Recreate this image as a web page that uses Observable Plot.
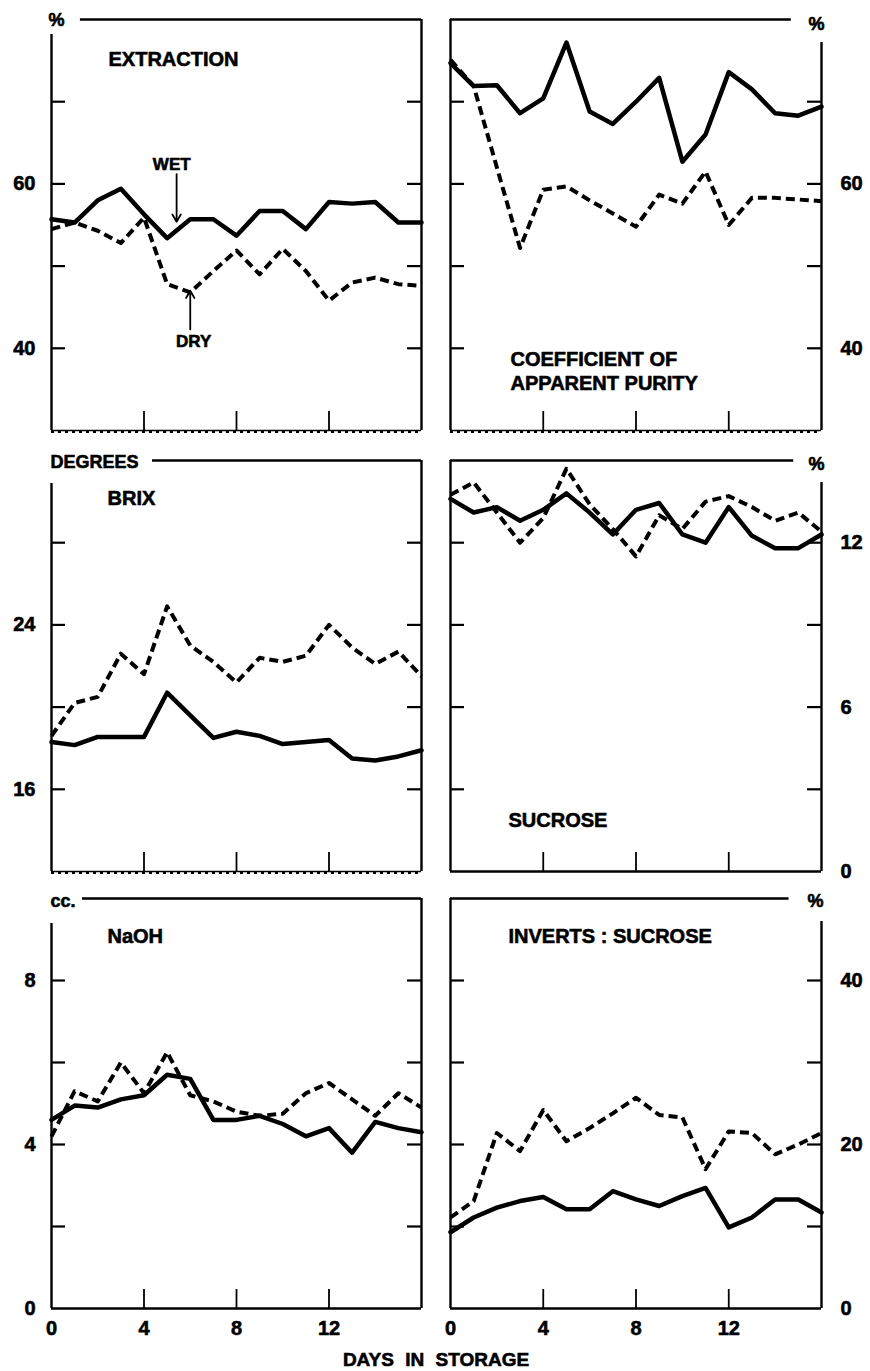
<!DOCTYPE html>
<html><head><meta charset="utf-8">
<script src="https://cdn.jsdelivr.net/npm/d3@7"></script>
<script src="https://cdn.jsdelivr.net/npm/@observablehq/plot@0.6"></script>
<style>
body{margin:0;background:#fff;}
#root{position:relative;width:870px;height:1371px;overflow:hidden;font-family:"Liberation Sans",Arial,sans-serif;font-weight:bold;color:#000;}
#root svg text{stroke:#000;stroke-width:0.6px;}
.panel{position:absolute;}
#xtitle{position:absolute;left:0;width:872px;top:1349px;text-align:center;font-size:19px;font-weight:bold;word-spacing:6px;-webkit-text-stroke:0.6px #000;}
</style></head><body><div id="root"></div>
<script>
// ---- data ----
const days = [0,1,2,3,4,5,6,7,8,9,10,11,12,13,14,15,16];
const extractionWet = [55.7,55.3,58.0,59.4,56.3,53.4,55.7,55.7,53.7,56.7,56.7,54.5,57.8,57.6,57.8,55.3,55.3];
const extractionDry = [54.5,55.3,54.3,52.8,55.9,47.8,46.8,49.4,51.9,49.0,52.1,49.4,45.8,48.0,48.6,47.8,47.6];
const purityWet = [74.7,71.9,72.0,68.6,70.4,77.2,68.8,67.3,70.0,72.9,62.7,66.0,73.6,71.5,68.6,68.3,69.4];
const purityDry = [75.1,71.9,62.0,52.2,59.3,59.7,58.0,56.4,54.8,58.7,57.6,61.5,55.0,58.3,58.3,58.1,57.9];
const brixWet = [18.3,18.15,18.55,18.55,18.55,20.7,19.6,18.5,18.8,18.6,18.2,18.3,18.4,17.5,17.4,17.6,17.9];
const brixDry = [18.6,20.2,20.5,22.6,21.6,24.9,23.0,22.2,21.2,22.4,22.2,22.5,24.0,22.9,22.1,22.7,21.5];
const sucroseWet = [13.6,13.1,13.3,12.8,13.2,13.8,13.1,12.3,13.2,13.45,12.3,12.0,13.3,12.25,11.8,11.8,12.3];
const sucroseDry = [13.75,14.2,13.1,12.0,12.9,14.7,13.4,12.5,11.5,13.0,12.5,13.5,13.7,13.3,12.8,13.1,12.4];
const naohWet = [4.6,4.95,4.9,5.1,5.2,5.7,5.6,4.6,4.6,4.7,4.5,4.2,4.4,3.8,4.55,4.4,4.3];
const naohDry = [4.2,5.3,5.05,6.0,5.25,6.25,5.2,5.05,4.8,4.7,4.75,5.25,5.5,5.1,4.7,5.25,4.9];
const invertsWet = [9.3,11.1,12.3,13.1,13.6,12.1,12.1,14.3,13.3,12.5,13.7,14.7,9.9,11.1,13.3,13.3,11.7];
const invertsDry = [11.1,13.1,21.4,19.2,24.2,20.4,22.0,23.8,25.7,23.6,23.3,17.0,21.6,21.4,18.8,20.0,21.4];
const xTickLabels = [0,4,8,12];
const titles = ["EXTRACTION","COEFFICIENT OF\nAPPARENT PURITY","BRIX","SUCROSE","NaOH","INVERTS : SUCROSE"];
const units = ["%","%","DEGREES","%","cc.","%"];
const yDomains = [[30,80],[30,80],[12,32],[0,15],[0,10],[0,50]];
const yLabelTicks = [[40,60],[40,60],[16,24],[0,6,12],[0,4,8],[0,20,40]];
// annotations on the extraction panel
const annoText = [{label:"WET", day:5.2, value:62.4},{label:"DRY", day:6.15, value:40.85}];
const annoArrows = [{day:5.41, from:61.2, to:55.4},{day:6.0, from:42.3, to:47.0}];
const xTitle = "DAYS IN STORAGE";

// ---- layout / style ----
const layout = [
  {col:0,row:0,step:10,titleDx:57,titleDy:39,unitDx:-3,unitDy:1,lineFrom:1.25,axisGap:15,wavy:true,anno:true},
  {col:1,row:0,step:10,titleDx:60,titleDy:351,unitDx:-5,unitDy:5,lineTo:14.7,axisGap:23,wavy:true},
  {col:0,row:1,step:4,titleDx:56,titleDy:37,unitDx:-1,unitDy:2,lineFrom:4.37,axisGap:23,wavy:true},
  {col:1,row:1,step:3,titleDx:58,titleDy:359,unitDx:-5,unitDy:4,lineTo:14.8,axisGap:22,wavy:false},
  {col:0,row:2,step:2,titleDx:56,titleDy:37,unitDx:-1,unitDy:3,lineFrom:1.34,axisGap:25,wavy:false,xaxis:true},
  {col:1,row:2,step:10,titleDx:58,titleDy:37,unitDx:-6,unitDy:3,lineTo:14.6,axisGap:23,wavy:false,xaxis:true}
];
const series = [[extractionWet,extractionDry],[purityWet,purityDry],[brixWet,brixDry],[sucroseWet,sucroseDry],[naohWet,naohDry],[invertsWet,invertsDry]];
const rowTop = [0,440,880];
const rowMT = [19,20,18];
const rowPH = [411,411,410];

const root = document.getElementById("root");

layout.forEach((p, i) => {
  const left = p.col === 0;
  const W = 435;
  const H = p.row === 2 ? 470 : 440;
  const mT = rowMT[p.row], plotH = rowPH[p.row];
  const mB = H - mT - plotH;
  const mL = left ? 51 : 15, mR = left ? 14 : 49;
  const [lo, hi] = yDomains[i];
  const dayPx = (W - mL - mR) / 16;
  const unitPx = plotH / (hi - lo);
  const px2d = v => v / dayPx, px2u = v => v / unitPx;
  const ticks = d3.range(lo, hi + 1e-9, p.step);
  const inner = ticks.filter(t => t > lo && t < hi);
  const data = days.map((d, k) => ({day: d, wet: series[i][0][k], dry: series[i][1][k]}));
  const axisSideX = left ? 0 : 16, otherSideX = left ? 16 : 0;
  const fw = {fontWeight: "bold"};
  const marks = [
    Plot.ruleY(inner, {x1: 0, x2: px2d(14), strokeWidth: 2.2}),
    Plot.ruleY(inner, {x1: 16 - px2d(14), x2: 16, strokeWidth: 2.2}),
    Plot.ruleX([4, 8, 12], {y1: lo, y2: lo + px2u(19), strokeWidth: 1.8}),
    Plot.ruleX([axisSideX], {y1: lo, y2: hi - px2u(p.axisGap), strokeWidth: 2.4}),
    Plot.ruleX([otherSideX], {y1: lo, y2: hi, strokeWidth: 2.4}),
    Plot.ruleY([hi], {x1: left ? p.lineFrom : 0, x2: left ? 16 : p.lineTo, strokeWidth: 2.4})
  ];
  if (p.wavy) {
    marks.push(Plot.ruleY([lo], {strokeWidth: 1.6}));
    marks.push(Plot.ruleY([lo], {strokeWidth: 2.4, strokeDasharray: "3,4", dy: 1.2}));
  } else {
    marks.push(Plot.ruleY([lo], {strokeWidth: 2.4}));
  }
  marks.push(Plot.line(data, {x: "day", y: "dry", stroke: "black", strokeWidth: 4, strokeDasharray: "9,5", strokeLinecap: "butt"}));
  marks.push(Plot.line(data, {x: "day", y: "wet", stroke: "black", strokeWidth: 4.5}));
  marks.push(Plot.axisY(yLabelTicks[i], {anchor: left ? "left" : "right", tickSize: 0, tickPadding: left ? 16 : 19, fontSize: 20, label: null, ...fw}));
  if (p.xaxis) marks.push(Plot.axisX(xTickLabels, {anchor: "bottom", tickSize: 0, tickPadding: 12, fontSize: 20, label: null, ...fw}));
  marks.push(Plot.text([units[i]], {text: d => d, frameAnchor: left ? "top-left" : "top-right", dx: p.unitDx, dy: p.unitDy,
    textAnchor: left ? "start" : "middle", lineAnchor: "middle", fontSize: 18, ...fw}));
  marks.push(Plot.text([titles[i]], {text: d => d, frameAnchor: "top-left", dx: p.titleDx, dy: p.titleDy,
    textAnchor: "start", lineAnchor: "middle", fontSize: 20, lineHeight: 1.2, ...fw}));
  if (p.anno) {
    marks.push(Plot.text(annoText, {x: "day", y: "value", text: "label", fontSize: 17, ...fw}));
    marks.push(Plot.arrow(annoArrows, {x1: "day", x2: "day", y1: "from", y2: "to", strokeWidth: 1.8, headLength: 7, bend: false}));
  }
  const svg = Plot.plot({
    width: W, height: H,
    marginTop: mT, marginBottom: mB, marginLeft: mL, marginRight: mR,
    x: {domain: [0, 16], label: null, axis: p.xaxis ? undefined : null},
    y: {domain: [lo, hi], label: null},
    style: {fontFamily: '"Liberation Sans", Arial, sans-serif', fontSize: "20px", fontWeight: "bold", overflow: "visible", background: "transparent", color: "black"},
    marks
  });
  const div = document.createElement("div");
  div.className = "panel";
  div.style.left = (p.col * 435) + "px";
  div.style.top = rowTop[p.row] + "px";
  div.appendChild(svg);
  root.appendChild(div);
});
const xt = document.createElement("div");
xt.id = "xtitle";
xt.textContent = xTitle;
root.appendChild(xt);
</script></body></html>
